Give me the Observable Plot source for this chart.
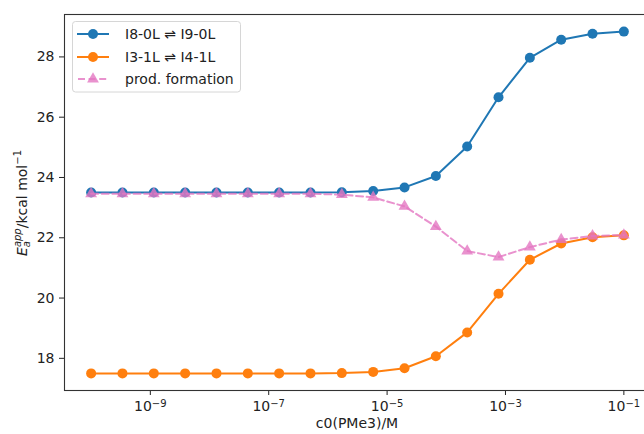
<!DOCTYPE html>
<html><head><meta charset="utf-8">
<script src="https://cdn.jsdelivr.net/npm/d3@7"></script>
<script src="https://cdn.jsdelivr.net/npm/@observablehq/plot@0.6"></script>
<style>
body{margin:0;background:#fff;}
#chart svg{display:block;}
</style>
</head><body><div id="chart"></div>
<script>
// c0(PMe3) / M  (18 log-spaced concentrations)
const conc = [1e-10, 3.383e-10, 1.145e-9, 3.874e-9, 1.311e-8, 4.437e-8, 1.501e-7, 5.081e-7,
  1.719e-6, 5.819e-6, 1.969e-5, 6.664e-5, 2.254e-4, 7.629e-4, 2.581e-3, 8.736e-3, 2.955e-2, 1e-1];
const eBlue = [23.5, 23.5, 23.5, 23.5, 23.5, 23.5, 23.5, 23.5, 23.51, 23.55, 23.67, 24.05,
  25.03, 26.66, 27.97, 28.57, 28.77, 28.84];
const eOrange = [17.5, 17.5, 17.5, 17.5, 17.5, 17.5, 17.5, 17.5, 17.51, 17.55, 17.67, 18.07,
  18.86, 20.14, 21.27, 21.81, 22.02, 22.08];
const eProd = [23.46, 23.46, 23.46, 23.46, 23.46, 23.46, 23.46, 23.46, 23.43, 23.34, 23.04, 22.37,
  21.56, 21.36, 21.69, 21.94, 22.06, 22.09];
const seriesNames = ["I8-0L ⇌ I9-0L", "I3-1L ⇌ I4-1L", "prod. formation"];
const seriesColors = ["#1f77b4", "#ff7f0e", "#e377c2"];
const xTicks = [1e-9, 1e-7, 1e-5, 1e-3, 1e-1];
const xTickLabels = ["−9", "−7", "−5", "−3", "−1"];
const yTicks = [18, 20, 22, 24, 26, 28];
const xLabel = "c0(PMe3)/M";

const rows = ys => conc.map((c, i) => ({c, e: ys[i]}));
const dBlue = rows(eBlue), dOrange = rows(eOrange), dProd = rows(eProd);

const W = 644, H = 434;
const chart = Plot.plot({
  width: W, height: H,
  marginLeft: 64, marginRight: -6, marginTop: 14, marginBottom: 44,
  style: {fontFamily: "DejaVu Sans", fontSize: "14px", color: "#222", background: "#fff"},
  x: {type: "log", domain: [Math.pow(10, -10.45), Math.pow(10, -0.55)], ticks: xTicks,
      tickFormat: (d, i) => "10" + xTickLabels[xTicks.indexOf(d)], tickSize: 5, tickPadding: 6,
      label: null},
  y: {domain: [16.933, 29.407], ticks: yTicks, tickSize: 5, tickPadding: 5, label: null},
  marks: [
    Plot.line(dBlue, {x: "c", y: "e", stroke: seriesColors[0], strokeWidth: 2}),
    Plot.dot(dBlue, {x: "c", y: "e", fill: seriesColors[0], r: 5}),
    Plot.line(dOrange, {x: "c", y: "e", stroke: seriesColors[1], strokeWidth: 2}),
    Plot.dot(dOrange, {x: "c", y: "e", fill: seriesColors[1], r: 5}),
    Plot.line(dProd, {x: "c", y: "e", stroke: seriesColors[2], strokeWidth: 2, strokeOpacity: 0.8, strokeDasharray: "7,3.6"}),
    Plot.dot(dProd, {x: "c", y: "e", symbol: "triangle", fill: seriesColors[2], fillOpacity: 0.8, r: 4.4}),
    Plot.frame({stroke: "#333", strokeWidth: 1.1})
  ]
});
document.getElementById("chart").appendChild(chart);

const svg = d3.select(chart);
// superscript exponents on x tick labels
svg.selectAll("text").each(function() {
  const t = d3.select(this);
  const s = t.text();
  if (/^10−\d$/.test(s)) {
    t.text("10");
    t.append("tspan").attr("font-size", "10px").attr("dy", "-0.45em").text(s.slice(2));
  }
});

// x axis label
svg.append("text").attr("x", (64 + 650) / 2).attr("y", 428)
  .attr("text-anchor", "middle").attr("fill", "#222").attr("font-size", "14px")
  .attr("font-family", "DejaVu Sans").text(xLabel);

// y axis label
const yl = svg.append("text").attr("transform", "translate(27,203) rotate(-90)")
  .attr("text-anchor", "middle").attr("fill", "#222").attr("font-size", "14px")
  .attr("font-family", "DejaVu Sans");
yl.append("tspan").attr("font-style", "italic").text("E");
yl.append("tspan").attr("font-style", "italic").attr("font-size", "10px").attr("dy", 3).text("a");
yl.append("tspan").attr("font-style", "italic").attr("font-size", "10px").attr("dx", -6.1).attr("dy", -9).text("app");
yl.append("tspan").attr("dy", 6).text("/kcal mol");
yl.append("tspan").attr("font-size", "10px").attr("dy", -6).text("−1");

// legend
const lg = svg.append("g").attr("font-family", "DejaVu Sans").attr("font-size", "14px")
  .attr("text-anchor", "start");
lg.append("rect").attr("x", 72.5).attr("y", 21.5).attr("width", 168).attr("height", 70.5)
  .attr("rx", 3).attr("fill", "#fff").attr("fill-opacity", 0.8).attr("stroke", "#d6d6d6");
const rowY = [34, 57, 79];
seriesNames.forEach((name, i) => {
  const y = rowY[i];
  const line = lg.append("line").attr("x1", 77).attr("x2", 109).attr("y1", y).attr("y2", y)
    .attr("stroke", seriesColors[i]).attr("stroke-width", 2);
  if (i === 2) {
    line.attr("stroke-dasharray", "7,3.6").attr("stroke-opacity", 0.8).attr("stroke-dashoffset", -1);
    lg.append("path").attr("transform", `translate(93,${y})`)
      .attr("d", d3.symbol(d3.symbolTriangle, Math.PI * 4.4 * 4.4)())
      .attr("fill", seriesColors[i]).attr("fill-opacity", 0.8);
  } else {
    lg.append("circle").attr("cx", 93).attr("cy", y).attr("r", 5).attr("fill", seriesColors[i]);
  }
  lg.append("text").attr("x", 125).attr("y", y).attr("dy", "0.36em").attr("text-anchor", "start")
    .attr("fill", "#222").text(name);
});
</script>
</body></html>
